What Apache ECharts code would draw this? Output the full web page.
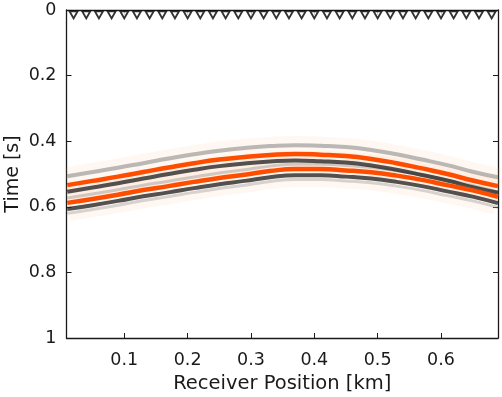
<!DOCTYPE html>
<html>
<head>
<meta charset="utf-8">
<script src="https://cdn.jsdelivr.net/npm/echarts@6/dist/echarts.min.js"></script>
<style>
  html, body { margin: 0; padding: 0; background: #fff; }
  #main { width: 502px; height: 397px; }
</style>
</head>
<body>
<div id="main"></div>
<script>
// receivers along the top of the section
var receiverX = [0.02, 0.04, 0.06, 0.08, 0.10, 0.12, 0.14, 0.16, 0.18, 0.20, 0.22, 0.24,
                 0.26, 0.28, 0.30, 0.32, 0.34, 0.36, 0.38, 0.40, 0.42, 0.44, 0.46, 0.48,
                 0.50, 0.52, 0.54, 0.56, 0.58, 0.60, 0.62, 0.64, 0.66, 0.68];
var receiverT = 0.015;

// picked travel times (s) of each stripe at these positions (km)
var sampleX     = [0.01, 0.05, 0.09, 0.13, 0.17, 0.21, 0.25, 0.29, 0.33,
                   0.37, 0.41, 0.45, 0.49, 0.53, 0.57, 0.61, 0.65, 0.69];
var upperGray   = [0.507, 0.494, 0.481, 0.467, 0.453, 0.440, 0.429, 0.421, 0.415,
                   0.412, 0.414, 0.418, 0.427, 0.440, 0.456, 0.473, 0.493, 0.510];
var upperOrange = [0.534, 0.521, 0.508, 0.494, 0.480, 0.467, 0.456, 0.448, 0.442,
                   0.439, 0.441, 0.445, 0.454, 0.467, 0.483, 0.500, 0.520, 0.537];
var upperDark   = [0.554, 0.541, 0.528, 0.514, 0.500, 0.487, 0.476, 0.468, 0.462,
                   0.459, 0.461, 0.465, 0.474, 0.487, 0.503, 0.520, 0.540, 0.557];
var midGray     = [0.573, 0.561, 0.548, 0.534, 0.522, 0.509, 0.497, 0.487, 0.476,
                   0.470, 0.470, 0.474, 0.480, 0.490, 0.503, 0.519, 0.535, 0.555];
var lowerOrange = [0.588, 0.576, 0.563, 0.549, 0.537, 0.524, 0.512, 0.502, 0.491,
                   0.485, 0.485, 0.489, 0.495, 0.505, 0.518, 0.534, 0.550, 0.570];
var lowerDark   = [0.607, 0.595, 0.582, 0.568, 0.556, 0.543, 0.531, 0.521, 0.510,
                   0.504, 0.504, 0.508, 0.514, 0.524, 0.537, 0.553, 0.569, 0.589];
var lowerLight  = [0.620, 0.608, 0.595, 0.581, 0.569, 0.556, 0.544, 0.534, 0.523,
                   0.517, 0.517, 0.521, 0.527, 0.537, 0.550, 0.566, 0.582, 0.602];

var xTicks = [0.1, 0.2, 0.3, 0.4, 0.5, 0.6];
var yTicks = [0, 0.2, 0.4, 0.6, 0.8, 1];

function pts(ys) {
    return sampleX.map(function (x, i) { return [x, ys[i]]; });
}

function stripe(ys, color, width, z) {
    return {
        type: 'line',
        data: pts(ys),
        smooth: true,
        showSymbol: false,
        silent: true,
        z: z,
        lineStyle: { color: color, width: width, cap: 'butt' }
    };
}

var chartDom = document.getElementById('main');
var myChart = echarts.init(chartDom);
var font = 'DejaVu Sans';
var ink = '#1a1a1a';
var option;

option = {
    animation: false,
    backgroundColor: '#fff',
    grid: { left: 66.5, right: 4, top: 10, bottom: 59, containLabel: false, outerBoundsMode: 'none' },
    xAxis: [
        {
            type: 'value',
            min: 0.0088,
            max: 0.69,
            name: 'Receiver Position [km]',
            nameLocation: 'middle',
            nameGap: 36,
            nameTextStyle: { color: ink, fontSize: 19.5, fontFamily: font },
            axisLine: { show: true, onZero: false, lineStyle: { color: ink, width: 1.3 } },
            axisTick: { inside: true, length: 5, customValues: xTicks, lineStyle: { color: ink } },
            axisLabel: { customValues: xTicks, color: ink, fontSize: 17.5, fontFamily: font, margin: 13 },
            splitLine: { show: false }
        },
        {
            type: 'value',
            position: 'top',
            min: 0.0088,
            max: 0.69,
            axisLine: { show: true, onZero: false, lineStyle: { color: ink, width: 1.3 } },
            axisTick: { inside: true, length: 5, customValues: xTicks, lineStyle: { color: ink } },
            axisLabel: { show: false },
            splitLine: { show: false }
        }
    ],
    yAxis: [
        {
            type: 'value',
            inverse: true,
            min: 0,
            max: 1,
            name: 'Time [s]',
            nameLocation: 'middle',
            nameGap: 44,
            nameMoveOverlap: false,
            nameTextStyle: { color: ink, fontSize: 19, fontFamily: font },
            axisLine: { show: true, onZero: false, lineStyle: { color: ink, width: 1.3 } },
            axisTick: { inside: true, length: 5, customValues: yTicks, lineStyle: { color: ink } },
            axisLabel: {
                customValues: yTicks, color: ink, fontSize: 17.5, fontFamily: font, margin: 10,
                formatter: function (v) { return String(Math.round(v * 10) / 10); }
            },
            splitLine: { show: false }
        },
        {
            type: 'value',
            position: 'right',
            inverse: true,
            min: 0,
            max: 1,
            axisLine: { show: true, onZero: false, lineStyle: { color: ink, width: 1.3 } },
            axisTick: { inside: true, length: 5, customValues: yTicks, lineStyle: { color: ink } },
            axisLabel: { show: false },
            splitLine: { show: false }
        }
    ],
    series: [
        // faint orange halos
        stripe(upperOrange, 'rgba(255,165,100,0.09)', 36, 1),
        stripe(lowerOrange, 'rgba(255,165,100,0.09)', 36, 1),
        // gray lobes of the wavelet
        stripe(upperGray, 'rgba(120,120,120,0.5)', 4, 3),
        stripe(midGray, 'rgba(140,140,140,0.4)', 3, 3),
        stripe(lowerLight, 'rgba(140,140,140,0.35)', 3, 3),
        stripe(upperDark, 'rgba(35,35,35,0.78)', 4, 4),
        stripe(lowerDark, 'rgba(35,35,35,0.78)', 4, 4),
        // orange picks
        stripe(upperOrange, '#ff4d00', 4.5, 5),
        stripe(lowerOrange, '#ff4d00', 4.5, 5),
        {
            type: 'scatter',
            data: receiverX.map(function (x) { return [x, receiverT]; }),
            symbol: 'triangle',
            symbolRotate: 180,
            symbolSize: [8, 7],
            silent: true,
            z: 10,
            itemStyle: { color: '#fff', borderColor: '#000', borderWidth: 1.8 }
        }
    ]
};

option && myChart.setOption(option);
</script>
</body>
</html>
